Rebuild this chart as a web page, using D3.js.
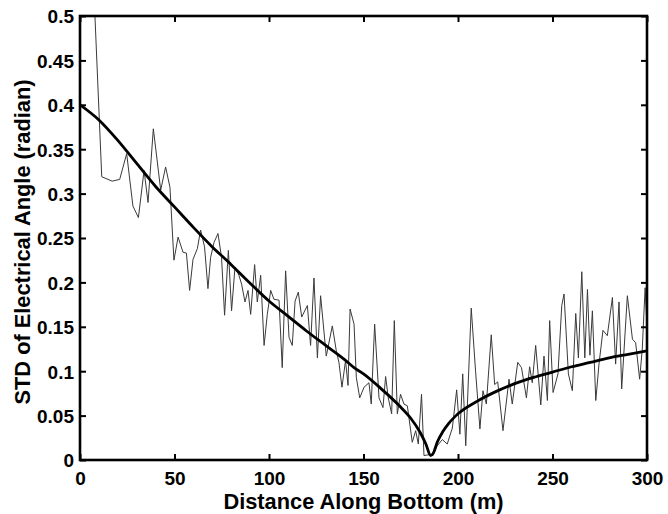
<!DOCTYPE html>
<html>
<head>
<meta charset="utf-8">
<script src="https://cdn.jsdelivr.net/npm/d3@7"></script>
<style>
  body { margin: 0; background: #fff; }
  svg text { font-family: "Liberation Sans", Arial, sans-serif; font-weight: bold; fill: #000; }
</style>
</head>
<body>
<div id="chart"></div>
<script>
  // measured std (noisy trace)
  var measDist = [5, 11.5, 17, 21, 24.7, 28, 30.9, 33.9, 36, 38.8, 42.7, 45.3, 47.6, 49.7, 51.9, 54.5, 56.3, 58, 59.8, 62.1,
    63.8, 65.9, 67.7, 69.1, 70.9, 73, 74.9, 76.5, 78.5, 80.2, 82, 84.1, 85.5, 87.3, 88.9, 90.3, 92.4, 93.8, 95.6, 97.4,
    99.1, 100.9, 102.6, 105.3, 107, 108.8, 110.6, 112.3, 113.8, 115.5, 117.3, 120.3, 122, 123.8, 125.6, 127.3, 130.3, 133.5, 135.6, 137,
    138.6, 140.5, 141.8, 142.9, 145, 146.2, 148, 150.3, 152.9, 154.1, 155.9, 158.2, 160.3, 161.7, 163.1, 164.9, 166.3, 167.9, 169.6, 171.4,
    173.2, 175.8, 177.6, 179, 180.7, 182, 184.7, 186.8, 189, 191.7, 194.3, 197, 199.3, 201, 202.5, 204.1, 207, 209.3, 211.6, 213.2,
    215, 217.6, 219.4, 221, 223.8, 227, 228.7, 231.6, 233.6, 236.2, 237.9, 239.3, 241.1, 243.8, 245.5, 247.3, 248.5, 250.3, 252.9, 254.9,
    256.1, 258.4, 260.5, 262.3, 263.7, 265.5, 267.1, 268.5, 269.8, 271.1, 272.9, 274.6, 276.7, 279, 281.7, 283.4, 285.2, 286.6, 289.6, 292.3,
    294, 296.1, 297.5, 299, 300];
  var measStd = [0.646, 0.319, 0.314, 0.316, 0.345, 0.286, 0.273, 0.326, 0.290, 0.373, 0.304, 0.330, 0.307, 0.225, 0.251, 0.234, 0.233, 0.191, 0.226, 0.238,
    0.259, 0.240, 0.193, 0.228, 0.245, 0.255, 0.228, 0.163, 0.236, 0.168, 0.217, 0.208, 0.198, 0.178, 0.191, 0.164, 0.220, 0.178, 0.208, 0.129,
    0.164, 0.191, 0.181, 0.180, 0.104, 0.213, 0.138, 0.129, 0.179, 0.189, 0.161, 0.174, 0.129, 0.205, 0.115, 0.185, 0.117, 0.151, 0.123, 0.110,
    0.082, 0.112, 0.084, 0.170, 0.153, 0.093, 0.070, 0.082, 0.087, 0.063, 0.153, 0.070, 0.059, 0.094, 0.070, 0.052, 0.157, 0.052, 0.074, 0.063,
    0.061, 0.020, 0.033, 0.018, 0.074, 0.005, 0.006, 0.005, 0.016, 0.023, 0.018, 0.036, 0.079, 0.029, 0.097, 0.016, 0.171, 0.100, 0.035, 0.078,
    0.063, 0.141, 0.085, 0.088, 0.033, 0.091, 0.063, 0.110, 0.104, 0.070, 0.105, 0.087, 0.129, 0.062, 0.117, 0.067, 0.157, 0.076, 0.097, 0.174,
    0.187, 0.097, 0.078, 0.165, 0.115, 0.212, 0.115, 0.192, 0.118, 0.168, 0.067, 0.108, 0.146, 0.140, 0.183, 0.108, 0.178, 0.080, 0.185, 0.136,
    0.132, 0.091, 0.125, 0.194, 0.150];

  // predicted std (smooth curve)
  var modelDist = [0, 10, 20, 30, 40, 50, 60, 70, 80, 90, 100, 110, 120, 130, 140, 145, 150, 160, 169, 175,
    180, 183, 185.5, 187, 189, 192, 195, 198, 200, 210, 220, 230, 240, 250, 260, 270, 280, 290, 300];
  var modelStd = [0.400, 0.383, 0.360, 0.334, 0.308, 0.285, 0.262, 0.240, 0.220, 0.199, 0.179, 0.162, 0.145, 0.129, 0.113, 0.104, 0.097, 0.079, 0.061, 0.047,
    0.031, 0.018, 0.005, 0.008, 0.020, 0.032, 0.041, 0.048, 0.052, 0.066, 0.077, 0.086, 0.093, 0.099, 0.105, 0.110, 0.115, 0.119, 0.123];

  var xTicks = [0, 50, 100, 150, 200, 250, 300];
  var yTicks = [0, 0.05, 0.1, 0.15, 0.2, 0.25, 0.3, 0.35, 0.4, 0.45, 0.5];

  var W = 668, H = 514;
  var plotL = 80, plotR = 647, plotT = 16, plotB = 460;

  var svg = d3.select('#chart').append('svg').attr('width', W).attr('height', H);

  var x = d3.scaleLinear().domain([0, 300]).range([plotL, plotR]);
  var y = d3.scaleLinear().domain([0, 0.5]).range([plotB, plotT]);

  svg.append('clipPath').attr('id', 'plotClip')
    .append('rect').attr('x', plotL).attr('y', plotT).attr('width', plotR - plotL).attr('height', plotB - plotT);

  var plot = svg.append('g').attr('clip-path', 'url(#plotClip)');

  var line = d3.line()
    .x(function(d) { return x(d[0]); })
    .y(function(d) { return y(d[1]); });

  plot.append('path')
    .datum(d3.zip(measDist, measStd))
    .attr('d', line)
    .attr('fill', 'none')
    .attr('stroke', '#3a3a3a')
    .attr('stroke-width', 1);

  plot.append('path')
    .datum(d3.zip(modelDist, modelStd))
    .attr('d', line.curve(d3.curveMonotoneX))
    .attr('fill', 'none')
    .attr('stroke', '#000')
    .attr('stroke-width', 2.8);

  // axes, ticks pointing inward on all four sides
  var tickLen = 6;
  var fmt = function(d) { return d === 0 ? '0' : String(+d.toFixed(2)); };

  var xBottom = d3.axisBottom(x).tickValues(xTicks).tickSizeInner(-tickLen).tickSizeOuter(0).tickPadding(12).tickFormat(fmt);
  var xTop = d3.axisTop(x).tickValues(xTicks).tickSizeInner(-tickLen).tickSizeOuter(0).tickFormat('');
  var yLeft = d3.axisLeft(y).tickValues(yTicks).tickSizeInner(-tickLen).tickSizeOuter(0).tickPadding(6).tickFormat(fmt);
  var yRight = d3.axisRight(y).tickValues(yTicks).tickSizeInner(-tickLen).tickSizeOuter(0).tickFormat('');

  var gx = svg.append('g').attr('transform', 'translate(0,' + plotB + ')').call(xBottom);
  svg.append('g').attr('transform', 'translate(0,' + plotT + ')').call(xTop);
  var gy = svg.append('g').attr('transform', 'translate(' + plotL + ',0)').call(yLeft);
  svg.append('g').attr('transform', 'translate(' + plotR + ',0)').call(yRight);

  svg.selectAll('.domain').remove();
  svg.selectAll('.tick line').attr('stroke', '#000').attr('stroke-width', 2);
  svg.selectAll('.tick text').attr('font-size', 19).attr('font-family', '"Liberation Sans", Arial, sans-serif').attr('font-weight', 'bold');
  gx.selectAll('.tick text').attr('dy', '0.71em');
  gy.selectAll('.tick text').attr('dy', '0.36em');

  svg.append('rect')
    .attr('x', plotL).attr('y', plotT)
    .attr('width', plotR - plotL).attr('height', plotB - plotT)
    .attr('fill', 'none')
    .attr('stroke', '#000')
    .attr('stroke-width', 2.6);

  svg.append('text')
    .attr('x', (plotL + plotR) / 2)
    .attr('y', 509)
    .attr('text-anchor', 'middle')
    .attr('font-size', 21.8)
    .text('Distance Along Bottom (m)');

  svg.append('text')
    .attr('transform', 'translate(30,' + 242 + ') rotate(-90)')
    .attr('text-anchor', 'middle')
    .attr('font-size', 21.8)
    .text('STD of Electrical Angle (radian)');
</script>
</body>
</html>
